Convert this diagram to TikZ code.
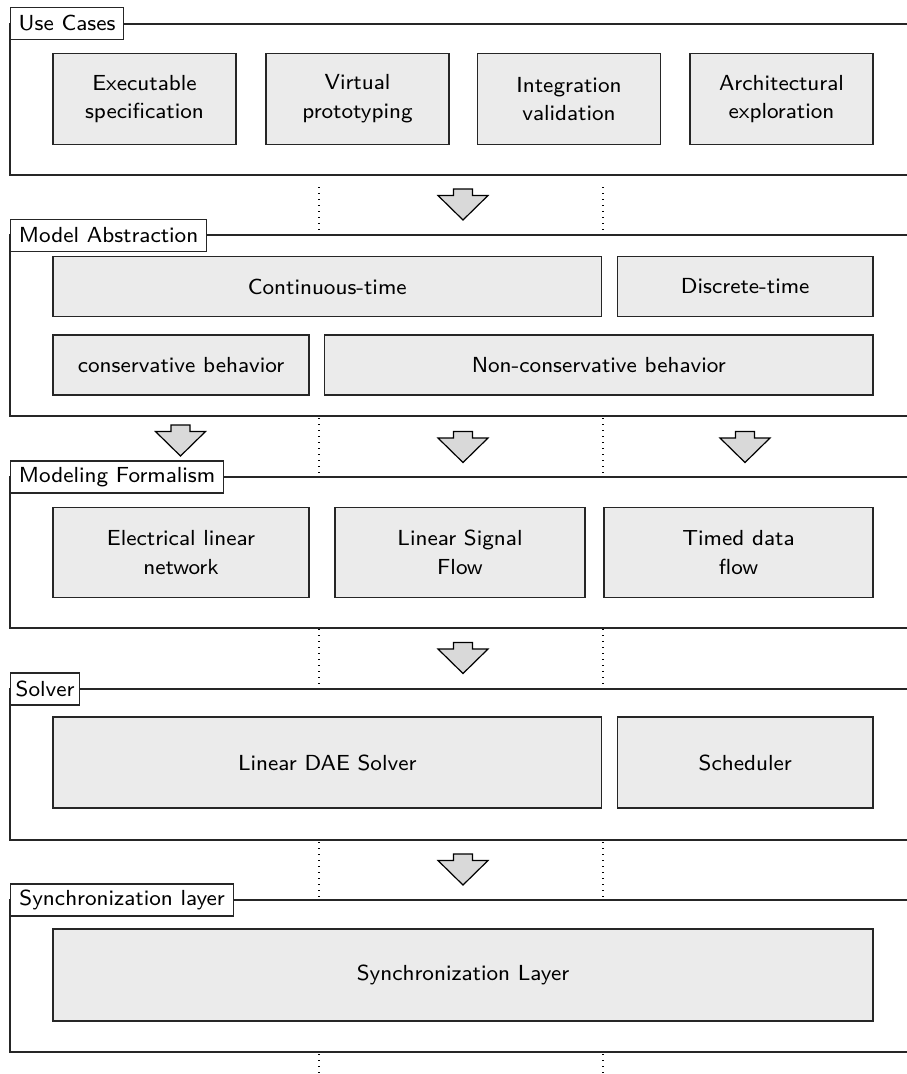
\documentclass[tikz,border=0pt]{standalone}
\usepackage{fontspec}
\setsansfont{lmsans8-regular.otf}
\definecolor{boxgray}{HTML}{EBEBEB}
\definecolor{arrowgray}{HTML}{D9D9D9}
\tikzset{
  frameline/.style={line width=1.2pt, draw=black!85},
  layerlabel/.style={draw=black!85, fill=white, line width=1.2pt, anchor=west,
    minimum height=32pt, inner xsep=0pt, inner ysep=0pt},
  blockbox/.style={draw=black!85, fill=boxgray, line width=1.2pt, align=center, inner sep=0pt},
  sepline/.style={line width=1.3pt, dash pattern=on 1.3pt off 4.7pt},
  arrowshape/.style={draw=black, fill=arrowgray, line width=1.2pt, line join=miter},
  downarrow/.pic={\draw[arrowshape] (-9.5,0) -- (9.5,0) -- (9.5,6.5) -- (25,6.5)
      -- (0,31) -- (-25,6.5) -- (-9.5,6.5) -- cycle;}
}
\begin{document}
\begin{tikzpicture}[x=1pt, y=-1pt, font=\sffamily\fontsize{21.8}{28.8}\selectfont]
\useasboundingbox (0,0) rectangle (907,1074);

% layer frames (open towards the right edge)
\foreach \t/\b in {24/175, 235/416, 477/628, 689/840, 900/1052}
  \draw[frameline] (907,\t) -- (10,\t) -- (10,\b) -- (907,\b);

% layer titles
\node[layerlabel, minimum width=113pt] (lUse)    at (10,23.5)  {Use Cases};
\node[layerlabel, minimum width=196pt] (lAbs)    at (10,235.5) {Model Abstraction};
\node[layerlabel, minimum width=213pt] (lForm)   at (10,477)   {Modeling Formalism};
\node[layerlabel, minimum width=69pt]  (lSolver) at (10,689)   {Solver};
\node[layerlabel, minimum width=223pt] (lSync)   at (10,900)   {Synchronization layer};

% Use Cases
\node[blockbox, minimum width=183pt, minimum height=91pt] (exec)  at (144.5,99) {Executable\\specification};
\node[blockbox, minimum width=183pt, minimum height=91pt] (proto) at (357.5,99) {Virtual\\prototyping};
\node[blockbox, minimum width=183pt, minimum height=91pt] (integ) at (569,99)   {Integration\\validation};
\node[blockbox, minimum width=183pt, minimum height=91pt] (arch)  at (781.5,99) {Architectural\\exploration};

% Model Abstraction
\node[blockbox, minimum width=548.5pt, minimum height=60pt] (ct)   at (327.25,286.5) {Continuous-time};
\node[blockbox, minimum width=255.5pt, minimum height=60pt] (dt)   at (745.25,286.5) {Discrete-time};
\node[blockbox, minimum width=256pt,   minimum height=60pt] (cons) at (181,365)      {conservative behavior};
\node[blockbox, minimum width=548.5pt, minimum height=60pt] (ncons) at (598.75,365)  {Non-conservative behavior};

% Modeling Formalism
\node[blockbox, minimum width=256pt, minimum height=90pt] (eln) at (181,552.5)   {Electrical linear\\network};
\node[blockbox, minimum width=250pt, minimum height=90pt] (lsf) at (460,552.5)   {Linear Signal\\Flow};
\node[blockbox, minimum width=269pt, minimum height=90pt] (tdf) at (738.5,552.5) {Timed data\\flow};

% Solver
\node[blockbox, minimum width=548.5pt, minimum height=91pt] (dae)   at (327.25,762.5) {Linear DAE Solver};
\node[blockbox, minimum width=255.5pt, minimum height=91pt] (sched) at (745.25,762.5) {Scheduler};

% Synchronization layer
\node[blockbox, minimum width=820pt, minimum height=92pt] (sync) at (463,975) {Synchronization Layer};

% dotted separators between the layers
\foreach \x in {319,603}
  \foreach \a/\b in {187/231, 418/476, 629/688, 842/899, 1054/1076}
    \draw[sepline] (\x,\a) -- (\x,\b);

% block arrows between the layers
\pic (aUse)   at (463,189)   {downarrow};
\pic (aCons)  at (180.5,425) {downarrow};
\pic (aNcons) at (463,431.5) {downarrow};
\pic (aDt)    at (745,431.5) {downarrow};
\pic (aForm)  at (463,642.5) {downarrow};
\pic (aSolv)  at (463,854)   {downarrow};
\end{tikzpicture}
\end{document}
